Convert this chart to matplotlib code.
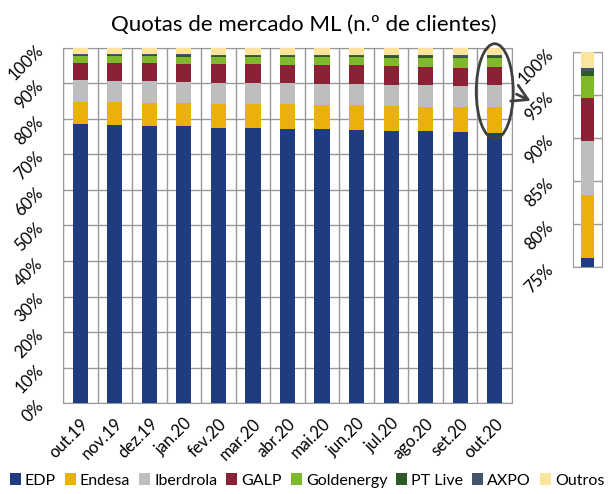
import numpy as np
import matplotlib.pyplot as plt
from matplotlib.patches import Ellipse, FancyArrowPatch

plt.rcParams['font.family'] = ['Lato', 'DejaVu Sans']

meses = ['out.19', 'nov.19', 'dez.19', 'jan.20', 'fev.20', 'mar.20', 'abr.20',
         'mai.20', 'jun.20', 'jul.20', 'ago.20', 'set.20', 'out.20']
edp        = [78.7, 78.4, 78.1, 77.9, 77.6, 77.4, 77.2, 77.1, 76.9, 76.7, 76.5, 76.3, 76.0]
endesa     = [6.1, 6.4, 6.5, 6.5, 6.7, 6.7, 6.9, 6.8, 7.0, 7.0, 7.0, 7.1, 7.4]
iberdrola  = [6.1, 5.9, 6.0, 6.0, 5.9, 6.0, 6.0, 6.1, 6.0, 6.0, 6.1, 6.0, 6.25]
galp       = [5.0, 5.1, 5.1, 5.1, 5.2, 5.3, 5.2, 5.2, 5.2, 5.1, 5.1, 5.1, 5.0]
goldenergy = [1.9, 2.0, 2.0, 2.1, 2.1, 2.1, 2.2, 2.2, 2.3, 2.4, 2.5, 2.6, 2.6]
ptlive     = [0.2, 0.2, 0.25, 0.3, 0.3, 0.35, 0.35, 0.4, 0.4, 0.45, 0.45, 0.5, 0.5]
axpo       = [0.3, 0.3, 0.3, 0.3, 0.3, 0.3, 0.3, 0.3, 0.3, 0.35, 0.35, 0.35, 0.35]
outros     = [1.7, 1.7, 1.75, 1.8, 1.9, 1.85, 1.85, 1.9, 1.9, 2.0, 2.0, 2.05, 1.9]

nomes = ['EDP', 'Endesa', 'Iberdrola', 'GALP', 'Goldenergy', 'PT Live', 'AXPO', 'Outros']
series = [edp, endesa, iberdrola, galp, goldenergy, ptlive, axpo, outros]
cores = ['#203C80', '#E9B10A', '#BEBEBE', '#8B2134', '#7DB92A', '#2E5A27', '#44546A', '#FCE49C']

fig = plt.figure(figsize=(6.08, 4.94), dpi=100)
ax = fig.add_axes([63/608, 1-403/494, 449/608, 355/494])

x = np.arange(len(meses))
base = np.zeros(len(meses))
for nome, s, c in zip(nomes, series, cores):
    ax.bar(x, s, 0.44, bottom=base, color=c, label=nome, zorder=3)
    base += np.array(s)

ax.set_xlim(-0.5, len(meses)-0.5)
ax.set_ylim(0, 100)
ax.set_yticks(np.arange(0, 101, 10))
ax.set_yticklabels([f'{v}%' for v in range(0, 101, 10)], rotation=45, ha='right',
                   va='center', rotation_mode='anchor', fontsize=12)
ax.set_xticks(x)
ax.set_xticklabels(meses, rotation=45, ha='right', rotation_mode='anchor', fontsize=12)
ax.set_xticks(np.arange(-0.5, len(meses), 1), minor=True)
ax.tick_params(which='both', length=0)
ax.tick_params(axis='y', pad=16)
ax.tick_params(axis='x', pad=9)
ax.grid(axis='y', which='major', color='#999999', lw=1, zorder=0)
ax.grid(axis='x', which='minor', color='#999999', lw=1, zorder=0)
for sp in ax.spines.values():
    sp.set_color('#999999')

# destaque do último mês
ell = Ellipse((12, 87.8), 1.07, 26.8, fill=False, ec='#404040', lw=2, clip_on=False, zorder=5)
ax.add_patch(ell)
fig.add_artist(FancyArrowPatch((514/608, 1-93/494), (533/608, 1-102/494),
                               transform=fig.transFigure, arrowstyle='->,head_length=0.6,head_width=0.35',
                               mutation_scale=18, color='#404040', lw=2))

# ampliação do último mês
axi = fig.add_axes([573/608, 1-267/494, 29/608, 215/494])
base = 0.0
for s, c in zip(series, cores):
    axi.bar(0, s[-1], 0.45, bottom=base, color=c, zorder=3)
    base += s[-1]
axi.set_xlim(-0.5, 0.5)
axi.set_ylim(75, 100)
axi.set_yticks(np.arange(75, 101, 5))
axi.set_yticklabels([f'{v}%' for v in range(75, 101, 5)], rotation=45, ha='right',
                    va='center', rotation_mode='anchor', fontsize=12)
axi.set_xticks([])
axi.tick_params(length=0, pad=16)
axi.grid(axis='y', color='#999999', lw=1, zorder=0)
for sp in axi.spines.values():
    sp.set_color('#999999')

fig.text(0.5, 0.95, 'Quotas de mercado ML (n.º de clientes)', ha='center', va='center', fontsize=16)

fig.legend(loc='lower center', bbox_to_anchor=(0.505, 0.0), ncol=8, frameon=False, fontsize=11.5,
           handlelength=0.7, handleheight=0.7, handletextpad=0.25, columnspacing=0.55,
           borderaxespad=0.2, borderpad=0.2)

fig.savefig('out.png', dpi=100)
